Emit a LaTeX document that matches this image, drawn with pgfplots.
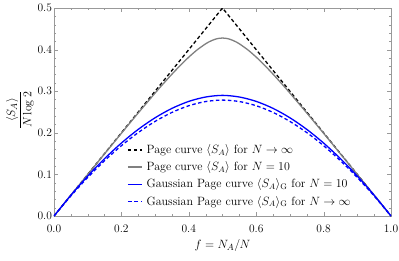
\documentclass[border=0pt]{standalone}
\usepackage{amsmath}
\usepackage{pgfplots}
\pgfplotsset{compat=1.18}
\definecolor{framegray}{gray}{0.6}
\definecolor{pagegray}{gray}{0.5}
\protected\def\SA{\ensuremath{\langle S_A\rangle}}
\protected\def\SAG{\ensuremath{\langle S_A\rangle_{\mathrm{G}}}}
\protected\def\Ninf{\ensuremath{N\to\infty}}
\protected\def\Nten{\ensuremath{N=10}}
\pgfplotsset{
  legBlackDash/.style={legend image code/.code={\draw[draw=black,line width=1.3pt,dash pattern=on 3.5pt off 2.5pt] (0pt,0pt) -- (14pt,0pt);}},
  legGray/.style={legend image code/.code={\draw[draw=pagegray,line width=1.3pt] (0pt,0pt) -- (14pt,0pt);}},
  legBlue/.style={legend image code/.code={\draw[draw=blue,line width=1.3pt] (0pt,0pt) -- (14pt,0pt);}},
  legBlueDash/.style={legend image code/.code={\draw[draw=blue,line width=1.4pt,dash pattern=on 4pt off 2.5pt] (0pt,0pt) -- (14pt,0pt);}},
}
\begin{document}
\begin{tikzpicture}
\begin{axis}[
  name=ax,
  scale only axis,
  width=337pt, height=208pt,
  xmin=0, xmax=1, ymin=0, ymax=0.5,
  xtick={0,0.2,0.4,0.6,0.8,1.0},
  ytick={0,0.1,0.2,0.3,0.4,0.5},
  xticklabels={0.0,0.2,0.4,0.6,0.8,1.0},
  yticklabels={0.0,0.1,0.2,0.3,0.4,0.5},
  minor xtick={0.05,0.1,0.15,0.25,0.3,0.35,0.45,0.5,0.55,0.65,0.7,0.75,0.85,0.9,0.95},
  minor ytick={0.02,0.04,0.06,0.08,0.12,0.14,0.16,0.18,0.22,0.24,0.26,0.28,0.32,0.34,0.36,0.38,0.42,0.44,0.46,0.48},
  tick align=inside,
  major tick length=4pt, minor tick length=2.2pt,
  axis line style={framegray},
  tick style={framegray},
  tick label style={font=\fontsize{11.5}{13.8}\selectfont},
  xticklabel style={yshift=-5pt},
  yticklabel style={xshift=1.5pt},
  label style={font=\fontsize{12.5}{15}\selectfont},
  xlabel={$f=N_A/N$},
  ylabel={$\displaystyle\frac{\langle S_A\rangle}{N\log 2}$},
  xlabel style={at={(axis description cs:0.5,-0.143)}, anchor=center},
  ylabel style={at={(axis description cs:-0.101,0.51)}, anchor=center},
  legend style={draw=none, fill=none, inner sep=0pt, at={(axis description cs:0.2166,0.035)}, anchor=south west,
    font=\fontsize{12}{14.4}\selectfont, row sep=2.6pt,
    nodes={inner xsep=1pt},
    /tikz/every odd column/.append style={column sep=3pt}},
  legend cell align=left,
]
\addplot[black, line width=1.3pt, dash pattern=on 3.5pt off 2.5pt, legBlackDash] coordinates {(0,0) (0.5,0.5) (1,0)};
\addlegendentry{Page curve \SA{} for \Ninf}
\addplot[pagegray, line width=1.3pt, smooth, legGray] coordinates {
(0,0) (0.05,0.04986) (0.1,0.09972) (0.15,0.14944) (0.2,0.19887) (0.25,0.24775)
(0.3,0.29549) (0.325,0.31862) (0.35,0.34098) (0.375,0.36225) (0.4,0.38197)
(0.425,0.39950) (0.45,0.41393) (0.4625,0.41961) (0.475,0.42399) (0.4875,0.42684) (0.5,0.42787)
(0.5125,0.42684) (0.525,0.42399) (0.5375,0.41961) (0.55,0.41393) (0.575,0.39950)
(0.6,0.38197) (0.625,0.36225) (0.65,0.34098) (0.675,0.31862) (0.7,0.29549)
(0.75,0.24775) (0.8,0.19887) (0.85,0.14944) (0.9,0.09972) (0.95,0.04986) (1,0)};
\addlegendentry{Page curve \SA{} for \Nten}
\addplot[blue, line width=1.3pt, smooth, legBlue] coordinates {
(0,0) (0.05,0.049923) (0.1,0.095947) (0.15,0.137851) (0.2,0.175383) (0.25,0.208263)
(0.3,0.236167) (0.35,0.258735) (0.4,0.275532) (0.45,0.286059) (0.5,0.2900)
(0.55,0.286059) (0.6,0.275532) (0.65,0.258735) (0.7,0.236167) (0.75,0.208263)
(0.8,0.175383) (0.85,0.137851) (0.9,0.095947) (0.95,0.049923) (1,0)};
\addlegendentry{Gaussian Page curve \SAG{} for \Nten}
\addplot[blue, line width=1.3pt, smooth, dash pattern=on 3.5pt off 2.5pt, legBlueDash] coordinates {
(0,0) (0.05,0.048166) (0.1,0.092534) (0.15,0.132892) (0.2,0.169004) (0.25,0.200605)
(0.3,0.227391) (0.35,0.249025) (0.4,0.265102) (0.45,0.275161) (0.5,0.278652)
(0.55,0.275161) (0.6,0.265102) (0.65,0.249025) (0.7,0.227391) (0.75,0.200605)
(0.8,0.169004) (0.85,0.132892) (0.9,0.092534) (0.95,0.048166) (1,0)};
\addlegendentry{Gaussian Page curve \SAG{} for \Ninf}
\end{axis}
\pgfresetboundingbox
\path[use as bounding box] (ax.south west) ++(-54pt,-44pt) rectangle ++(399pt,260pt);
\end{tikzpicture}
\end{document}
